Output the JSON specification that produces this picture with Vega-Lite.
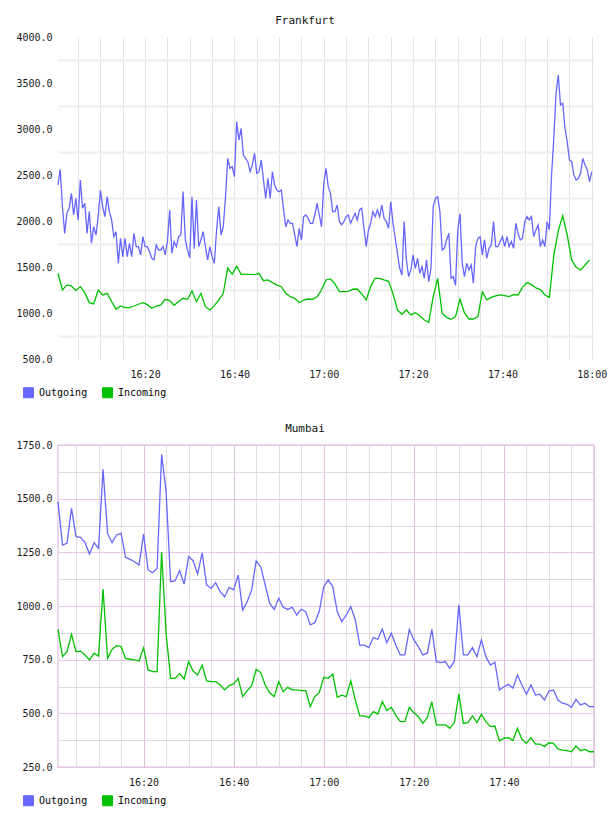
{
  "$schema": "https://vega.github.io/schema/vega-lite/v6.json",
  "background": "white",
  "padding": {"left": 15, "top": 15, "right": 0, "bottom": 0},
  "spacing": 86,
  "bounds": "flush",
  "resolve": {"legend": {"color": "independent"}},
  "config": {
    "font": "DejaVu Sans Mono",
    "view": {"stroke": null},
    "axis": {"labelFont": "DejaVu Sans Mono", "labelFontSize": 10, "labelColor": "#1a1a1a", "ticks": false, "domain": false, "labelOverlap": false},
    "title": {"font": "DejaVu Sans Mono", "fontSize": 11, "fontWeight": "normal", "color": "#111111", "anchor": "middle", "frame": "group", "dx": -21, "offset": 6}
  },
  "vconcat": [
    {
      "width": 536,
      "height": 322,
      "title": "Frankfurt",
      "data": {
        "format": {"parse": {"t": "date:'%H:%M:%S'"}},
        "values": [
          {"t": "16:00:30", "Outgoing": 2392, "Incoming": 1432}, {"t": "16:01:00", "Outgoing": 2562},
          {"t": "16:01:30", "Outgoing": 2150, "Incoming": 1250}, {"t": "16:02:00", "Outgoing": 1866},
          {"t": "16:02:30", "Outgoing": 2084, "Incoming": 1305}, {"t": "16:03:00", "Outgoing": 2138},
          {"t": "16:03:30", "Outgoing": 2301, "Incoming": 1294}, {"t": "16:04:00", "Outgoing": 2065},
          {"t": "16:04:30", "Outgoing": 2247, "Incoming": 1243}, {"t": "16:05:00", "Outgoing": 2011},
          {"t": "16:05:30", "Outgoing": 2446, "Incoming": 1287}, {"t": "16:06:00", "Outgoing": 2138},
          {"t": "16:06:30", "Outgoing": 2192, "Incoming": 1221}, {"t": "16:07:00", "Outgoing": 1866},
          {"t": "16:07:30", "Outgoing": 2102, "Incoming": 1113}, {"t": "16:08:00", "Outgoing": 1758},
          {"t": "16:08:30", "Outgoing": 1939, "Incoming": 1098}, {"t": "16:09:00", "Outgoing": 1848},
          {"t": "16:09:30", "Outgoing": 2048, "Incoming": 1250}, {"t": "16:10:00", "Outgoing": 2337},
          {"t": "16:10:30", "Outgoing": 2156, "Incoming": 1196}, {"t": "16:11:00", "Outgoing": 2047},
          {"t": "16:11:30", "Outgoing": 2265, "Incoming": 1214}, {"t": "16:12:00", "Outgoing": 2102},
          {"t": "16:12:30", "Outgoing": 2011, "Incoming": 1124}, {"t": "16:13:00", "Outgoing": 1830},
          {"t": "16:13:30", "Outgoing": 1884, "Incoming": 1040}, {"t": "16:14:00", "Outgoing": 1540},
          {"t": "16:14:30", "Outgoing": 1812, "Incoming": 1076}, {"t": "16:15:00", "Outgoing": 1613},
          {"t": "16:15:30", "Outgoing": 1812, "Incoming": 1058}, {"t": "16:16:00", "Outgoing": 1613},
          {"t": "16:16:30", "Outgoing": 1758, "Incoming": 1058}, {"t": "16:17:00", "Outgoing": 1613},
          {"t": "16:17:30", "Outgoing": 1866, "Incoming": 1076}, {"t": "16:18:00", "Outgoing": 1721},
          {"t": "16:18:30", "Outgoing": 1721, "Incoming": 1095}, {"t": "16:19:00", "Outgoing": 1631},
          {"t": "16:19:30", "Outgoing": 1830, "Incoming": 1113}, {"t": "16:20:00", "Outgoing": 1721},
          {"t": "16:20:30", "Outgoing": 1721, "Incoming": 1091}, {"t": "16:21:00", "Outgoing": 1667},
          {"t": "16:21:30", "Outgoing": 1595, "Incoming": 1051}, {"t": "16:22:00", "Outgoing": 1577},
          {"t": "16:22:30", "Outgoing": 1739, "Incoming": 1076}, {"t": "16:23:00", "Outgoing": 1685},
          {"t": "16:23:30", "Outgoing": 1685, "Incoming": 1087}, {"t": "16:24:00", "Outgoing": 1721},
          {"t": "16:24:30", "Outgoing": 1631, "Incoming": 1149}, {"t": "16:25:00", "Outgoing": 1776},
          {"t": "16:25:30", "Outgoing": 2120, "Incoming": 1134}, {"t": "16:26:00", "Outgoing": 1649},
          {"t": "16:26:30", "Outgoing": 1776, "Incoming": 1084}, {"t": "16:27:00", "Outgoing": 1721},
          {"t": "16:27:30", "Outgoing": 1830, "Incoming": 1124}, {"t": "16:28:00", "Outgoing": 1848},
          {"t": "16:28:30", "Outgoing": 2319, "Incoming": 1160}, {"t": "16:29:00", "Outgoing": 1794},
          {"t": "16:29:30", "Outgoing": 1685, "Incoming": 1149}, {"t": "16:30:00", "Outgoing": 1600},
          {"t": "16:30:30", "Outgoing": 2264, "Incoming": 1240}, {"t": "16:31:00", "Outgoing": 1700},
          {"t": "16:31:30", "Outgoing": 2228, "Incoming": 1123}, {"t": "16:32:00", "Outgoing": 1721},
          {"t": "16:32:30", "Outgoing": 1793, "Incoming": 1214}, {"t": "16:33:00", "Outgoing": 1884},
          {"t": "16:33:30", "Outgoing": 1721, "Incoming": 1069}, {"t": "16:34:00", "Outgoing": 1576},
          {"t": "16:34:30", "Outgoing": 1721, "Incoming": 1033}, {"t": "16:35:00", "Outgoing": 1612},
          {"t": "16:35:30", "Outgoing": 1540, "Incoming": 1080}, {"t": "16:36:00", "Outgoing": 1900},
          {"t": "16:36:30", "Outgoing": 2156, "Incoming": 1141}, {"t": "16:37:00", "Outgoing": 1848},
          {"t": "16:37:30", "Outgoing": 1938, "Incoming": 1214}, {"t": "16:38:00", "Outgoing": 2264},
          {"t": "16:38:30", "Outgoing": 2681, "Incoming": 1490}, {"t": "16:39:00", "Outgoing": 2572},
          {"t": "16:39:30", "Outgoing": 2590, "Incoming": 1420}, {"t": "16:40:00", "Outgoing": 2482},
          {"t": "16:40:30", "Outgoing": 3080, "Incoming": 1510}, {"t": "16:41:00", "Outgoing": 2880},
          {"t": "16:41:30", "Outgoing": 3007, "Incoming": 1420}, {"t": "16:42:00", "Outgoing": 2717},
          {"t": "16:42:30", "Outgoing": 2681, "Incoming": 1420}, {"t": "16:43:00", "Outgoing": 2645},
          {"t": "16:43:30", "Outgoing": 2536, "Incoming": 1420}, {"t": "16:44:00", "Outgoing": 2609},
          {"t": "16:44:30", "Outgoing": 2735, "Incoming": 1417}, {"t": "16:45:00", "Outgoing": 2518},
          {"t": "16:45:30", "Outgoing": 2536, "Incoming": 1431}, {"t": "16:46:00", "Outgoing": 2663},
          {"t": "16:46:30", "Outgoing": 2445, "Incoming": 1351}, {"t": "16:47:00", "Outgoing": 2246},
          {"t": "16:47:30", "Outgoing": 2464, "Incoming": 1359}, {"t": "16:48:00", "Outgoing": 2246},
          {"t": "16:48:30", "Outgoing": 2536, "Incoming": 1330}, {"t": "16:49:00", "Outgoing": 2391},
          {"t": "16:49:30", "Outgoing": 2337, "Incoming": 1304}, {"t": "16:50:00", "Outgoing": 2319},
          {"t": "16:50:30", "Outgoing": 2337, "Incoming": 1286}, {"t": "16:51:00", "Outgoing": 2119},
          {"t": "16:51:30", "Outgoing": 1938, "Incoming": 1214}, {"t": "16:52:00", "Outgoing": 2011},
          {"t": "16:52:30", "Outgoing": 1974, "Incoming": 1177}, {"t": "16:53:00", "Outgoing": 1974},
          {"t": "16:53:30", "Outgoing": 1848, "Incoming": 1159}, {"t": "16:54:00", "Outgoing": 1721},
          {"t": "16:54:30", "Outgoing": 1920, "Incoming": 1112}, {"t": "16:55:00", "Outgoing": 1793},
          {"t": "16:55:30", "Outgoing": 2047, "Incoming": 1141}, {"t": "16:56:00", "Outgoing": 2065},
          {"t": "16:56:30", "Outgoing": 2029, "Incoming": 1152}, {"t": "16:57:00", "Outgoing": 1974},
          {"t": "16:57:30", "Outgoing": 1974, "Incoming": 1149}, {"t": "16:58:00", "Outgoing": 2065},
          {"t": "16:58:30", "Outgoing": 2192, "Incoming": 1177}, {"t": "16:59:00", "Outgoing": 2065},
          {"t": "16:59:30", "Outgoing": 1938, "Incoming": 1250}, {"t": "17:00:00", "Outgoing": 2409},
          {"t": "17:00:30", "Outgoing": 2573, "Incoming": 1359}, {"t": "17:01:00", "Outgoing": 2373},
          {"t": "17:01:30", "Outgoing": 2301, "Incoming": 1370}, {"t": "17:02:00", "Outgoing": 2102},
          {"t": "17:02:30", "Outgoing": 2102, "Incoming": 1316}, {"t": "17:03:00", "Outgoing": 2174},
          {"t": "17:03:30", "Outgoing": 1993, "Incoming": 1232}, {"t": "17:04:00", "Outgoing": 1957},
          {"t": "17:04:30", "Outgoing": 1993, "Incoming": 1232}, {"t": "17:05:00", "Outgoing": 2047},
          {"t": "17:05:30", "Outgoing": 2065, "Incoming": 1236}, {"t": "17:06:00", "Outgoing": 1975},
          {"t": "17:06:30", "Outgoing": 2029, "Incoming": 1258}, {"t": "17:07:00", "Outgoing": 2084},
          {"t": "17:07:30", "Outgoing": 2011, "Incoming": 1261}, {"t": "17:08:00", "Outgoing": 2120},
          {"t": "17:08:30", "Outgoing": 2138, "Incoming": 1207}, {"t": "17:09:00", "Outgoing": 1921},
          {"t": "17:09:30", "Outgoing": 1721, "Incoming": 1142}, {"t": "17:10:00", "Outgoing": 1903},
          {"t": "17:10:30", "Outgoing": 1975, "Incoming": 1287}, {"t": "17:11:00", "Outgoing": 2102},
          {"t": "17:11:30", "Outgoing": 2047, "Incoming": 1377}, {"t": "17:12:00", "Outgoing": 2120},
          {"t": "17:12:30", "Outgoing": 2047, "Incoming": 1377}, {"t": "17:13:00", "Outgoing": 2174},
          {"t": "17:13:30", "Outgoing": 2029, "Incoming": 1359}, {"t": "17:14:00", "Outgoing": 1993},
          {"t": "17:14:30", "Outgoing": 1921, "Incoming": 1344}, {"t": "17:15:00", "Outgoing": 2210},
          {"t": "17:15:30", "Outgoing": 1975, "Incoming": 1210}, {"t": "17:16:00", "Outgoing": 1812},
          {"t": "17:16:30", "Outgoing": 1649, "Incoming": 1033}, {"t": "17:17:00", "Outgoing": 1486},
          {"t": "17:17:30", "Outgoing": 1413, "Incoming": 986}, {"t": "17:18:00", "Outgoing": 1993},
          {"t": "17:18:30", "Outgoing": 1576, "Incoming": 1033}, {"t": "17:19:00", "Outgoing": 1395},
          {"t": "17:19:30", "Outgoing": 1468, "Incoming": 979}, {"t": "17:20:00", "Outgoing": 1631},
          {"t": "17:20:30", "Outgoing": 1486, "Incoming": 1004}, {"t": "17:21:00", "Outgoing": 1594},
          {"t": "17:21:30", "Outgoing": 1431, "Incoming": 971}, {"t": "17:22:00", "Outgoing": 1504},
          {"t": "17:22:30", "Outgoing": 1377, "Incoming": 924}, {"t": "17:23:00", "Outgoing": 1576},
          {"t": "17:23:30", "Outgoing": 1341, "Incoming": 899}, {"t": "17:24:00", "Outgoing": 1486},
          {"t": "17:24:30", "Outgoing": 2156, "Incoming": 1178}, {"t": "17:25:00", "Outgoing": 2247},
          {"t": "17:25:30", "Outgoing": 2265, "Incoming": 1377}, {"t": "17:26:00", "Outgoing": 2102},
          {"t": "17:26:30", "Outgoing": 1685, "Incoming": 997}, {"t": "17:27:00", "Outgoing": 1703},
          {"t": "17:27:30", "Outgoing": 1794, "Incoming": 953}, {"t": "17:28:00", "Outgoing": 1866},
          {"t": "17:28:30", "Outgoing": 1377, "Incoming": 932}, {"t": "17:29:00", "Outgoing": 1395},
          {"t": "17:29:30", "Outgoing": 1300, "Incoming": 960}, {"t": "17:30:00", "Outgoing": 1903},
          {"t": "17:30:30", "Outgoing": 2080, "Incoming": 1150}, {"t": "17:31:00", "Outgoing": 1540},
          {"t": "17:31:30", "Outgoing": 1395, "Incoming": 1000}, {"t": "17:32:00", "Outgoing": 1540},
          {"t": "17:32:30", "Outgoing": 1468, "Incoming": 935}, {"t": "17:33:00", "Outgoing": 1522},
          {"t": "17:33:30", "Outgoing": 1323, "Incoming": 935}, {"t": "17:34:00", "Outgoing": 1721},
          {"t": "17:34:30", "Outgoing": 1812, "Incoming": 960}, {"t": "17:35:00", "Outgoing": 1830},
          {"t": "17:35:30", "Outgoing": 1631, "Incoming": 1230}, {"t": "17:36:00", "Outgoing": 1794},
          {"t": "17:36:30", "Outgoing": 1595, "Incoming": 1142}, {"t": "17:37:00", "Outgoing": 1703},
          {"t": "17:37:30", "Outgoing": 1739, "Incoming": 1170}, {"t": "17:38:00", "Outgoing": 1993},
          {"t": "17:38:30", "Outgoing": 1721, "Incoming": 1185}, {"t": "17:39:00", "Outgoing": 1721},
          {"t": "17:39:30", "Outgoing": 1776, "Incoming": 1196}, {"t": "17:40:00", "Outgoing": 1830},
          {"t": "17:40:30", "Outgoing": 1721, "Incoming": 1189}, {"t": "17:41:00", "Outgoing": 1830},
          {"t": "17:41:30", "Outgoing": 1721, "Incoming": 1178}, {"t": "17:42:00", "Outgoing": 1776},
          {"t": "17:42:30", "Outgoing": 1703, "Incoming": 1200}, {"t": "17:43:00", "Outgoing": 1975},
          {"t": "17:43:30", "Outgoing": 1866, "Incoming": 1196}, {"t": "17:44:00", "Outgoing": 1794},
          {"t": "17:44:30", "Outgoing": 1812, "Incoming": 1279}, {"t": "17:45:00", "Outgoing": 1993},
          {"t": "17:45:30", "Outgoing": 2047, "Incoming": 1330}, {"t": "17:46:00", "Outgoing": 2011},
          {"t": "17:46:30", "Outgoing": 2047, "Incoming": 1308}, {"t": "17:47:00", "Outgoing": 1830},
          {"t": "17:47:30", "Outgoing": 1903, "Incoming": 1272}, {"t": "17:48:00", "Outgoing": 1957},
          {"t": "17:48:30", "Outgoing": 1721, "Incoming": 1254}, {"t": "17:49:00", "Outgoing": 1794},
          {"t": "17:49:30", "Outgoing": 1721, "Incoming": 1196}, {"t": "17:50:00", "Outgoing": 1993},
          {"t": "17:50:30", "Outgoing": 1903, "Incoming": 1170}, {"t": "17:51:00", "Outgoing": 2500},
          {"t": "17:51:30", "Outgoing": 2899, "Incoming": 1627}, {"t": "17:52:00", "Outgoing": 3388},
          {"t": "17:52:30", "Outgoing": 3587, "Incoming": 1893}, {"t": "17:53:00", "Outgoing": 3261},
          {"t": "17:53:30", "Outgoing": 3279, "Incoming": 2060}, {"t": "17:54:00", "Outgoing": 3008},
          {"t": "17:54:30", "Outgoing": 2863, "Incoming": 1848}, {"t": "17:55:00", "Outgoing": 2663},
          {"t": "17:55:30", "Outgoing": 2645, "Incoming": 1577}, {"t": "17:56:00", "Outgoing": 2500},
          {"t": "17:56:30", "Outgoing": 2446, "Incoming": 1497}, {"t": "17:57:00", "Outgoing": 2464},
          {"t": "17:57:30", "Outgoing": 2518, "Incoming": 1468}, {"t": "17:58:00", "Outgoing": 2681},
          {"t": "17:58:30", "Outgoing": 2609, "Incoming": 1522}, {"t": "17:59:00", "Outgoing": 2555},
          {"t": "17:59:30", "Outgoing": 2428, "Incoming": 1577}, {"t": "18:00:00", "Outgoing": 2537}
        ]
      },
      "transform": [
        {"fold": ["Outgoing", "Incoming"], "as": ["series", "value"]},
        {"filter": "isValid(datum.value)"}
      ],
      "mark": {"type": "line", "strokeWidth": 1.3},
      "encoding": {
        "x": {
          "field": "t", "type": "temporal", "title": null,
          "scale": {"domain": [
            {"year": 1900, "month": 1, "date": 1, "hours": 16, "minutes": 0, "seconds": 30},
            {"year": 1900, "month": 1, "date": 1, "hours": 18, "minutes": 0, "seconds": 30}
          ]},
          "axis": {
            "format": "%H:%M",
            "labelExpr": "minutes(datum.value) % 20 === 0 ? datum.label : ''",
            "gridColor": "#e3e3e3", "labelPadding": 10, "labelFlush": false
          }
        },
        "y": {
          "field": "value", "type": "quantitative", "title": null,
          "scale": {"domain": [500, 4000], "nice": false, "zero": false},
          "axis": {
            "values": [500, 750, 1000, 1250, 1500, 1750, 2000, 2250, 2500, 2750, 3000, 3250, 3500, 3750, 4000],
            "format": ".1f",
            "labelExpr": "datum.value % 500 === 0 ? datum.label : ''",
            "gridColor": "#eeeeee", "gridWidth": 2,
            "gridOpacity": {"condition": {"test": "datum.value % 500 === 0", "value": 0}, "value": 1},
            "labelPadding": 6
          }
        },
        "color": {
          "field": "series", "type": "nominal",
          "scale": {"domain": ["Outgoing", "Incoming"], "range": ["#6666ff", "#00c000"]},
          "legend": {
            "title": null, "orient": "none", "legendX": -35, "legendY": 350, "direction": "horizontal",
            "symbolType": "square", "symbolSize": 100, "labelFont": "DejaVu Sans Mono", "labelFontSize": 10,
            "labelOffset": 5, "columnPadding": 12, "padding": 0,
            "encode": {"symbols": {"update": {
              "fill": {"signal": "datum.value === 'Outgoing' ? '#6666ff' : '#00c000'"},
              "fillOpacity": {"value": 1},
              "stroke": {"value": "#999999"},
              "strokeWidth": {"value": 1}
            }}}
          }
        }
      }
    },
    {
      "width": 536,
      "height": 322,
      "title": "Mumbai",
      "view": {"stroke": "#e8cde8", "strokeWidth": 1.5},
      "data": {
        "format": {"parse": {"t": "date:'%H:%M:%S'"}},
        "values": [
          {"t": "16:01:00", "Outgoing": 1486, "Incoming": 891}, {"t": "16:02:00", "Outgoing": 1284, "Incoming": 764},
          {"t": "16:03:00", "Outgoing": 1292, "Incoming": 787}, {"t": "16:04:00", "Outgoing": 1455, "Incoming": 868},
          {"t": "16:05:00", "Outgoing": 1323, "Incoming": 787}, {"t": "16:06:00", "Outgoing": 1320, "Incoming": 790},
          {"t": "16:07:00", "Outgoing": 1295, "Incoming": 772}, {"t": "16:08:00", "Outgoing": 1242, "Incoming": 749},
          {"t": "16:09:00", "Outgoing": 1295, "Incoming": 780}, {"t": "16:10:00", "Outgoing": 1269, "Incoming": 767},
          {"t": "16:11:00", "Outgoing": 1637, "Incoming": 1079}, {"t": "16:12:00", "Outgoing": 1338, "Incoming": 756},
          {"t": "16:13:00", "Outgoing": 1295, "Incoming": 798}, {"t": "16:14:00", "Outgoing": 1331, "Incoming": 815},
          {"t": "16:15:00", "Outgoing": 1338, "Incoming": 811}, {"t": "16:16:00", "Outgoing": 1227, "Incoming": 756},
          {"t": "16:17:00", "Outgoing": 1217, "Incoming": 752}, {"t": "16:18:00", "Outgoing": 1206, "Incoming": 749},
          {"t": "16:19:00", "Outgoing": 1191, "Incoming": 744}, {"t": "16:20:00", "Outgoing": 1335, "Incoming": 806},
          {"t": "16:21:00", "Outgoing": 1168, "Incoming": 702}, {"t": "16:22:00", "Outgoing": 1155, "Incoming": 694},
          {"t": "16:23:00", "Outgoing": 1175, "Incoming": 694}, {"t": "16:24:00", "Outgoing": 1706, "Incoming": 1250},
          {"t": "16:25:00", "Outgoing": 1533, "Incoming": 873}, {"t": "16:26:00", "Outgoing": 1113, "Incoming": 663},
          {"t": "16:27:00", "Outgoing": 1118, "Incoming": 663}, {"t": "16:28:00", "Outgoing": 1165, "Incoming": 686},
          {"t": "16:29:00", "Outgoing": 1102, "Incoming": 660}, {"t": "16:30:00", "Outgoing": 1230, "Incoming": 741},
          {"t": "16:31:00", "Outgoing": 1211, "Incoming": 697}, {"t": "16:32:00", "Outgoing": 1149, "Incoming": 679},
          {"t": "16:33:00", "Outgoing": 1248, "Incoming": 725}, {"t": "16:34:00", "Outgoing": 1098, "Incoming": 651},
          {"t": "16:35:00", "Outgoing": 1082, "Incoming": 648}, {"t": "16:36:00", "Outgoing": 1109, "Incoming": 648},
          {"t": "16:37:00", "Outgoing": 1067, "Incoming": 632}, {"t": "16:38:00", "Outgoing": 1043, "Incoming": 609},
          {"t": "16:39:00", "Outgoing": 1087, "Incoming": 629}, {"t": "16:40:00", "Outgoing": 1075, "Incoming": 637},
          {"t": "16:41:00", "Outgoing": 1144, "Incoming": 663}, {"t": "16:42:00", "Outgoing": 981, "Incoming": 578},
          {"t": "16:43:00", "Outgoing": 1020, "Incoming": 606}, {"t": "16:44:00", "Outgoing": 1075, "Incoming": 629},
          {"t": "16:45:00", "Outgoing": 1210, "Incoming": 705}, {"t": "16:46:00", "Outgoing": 1183, "Incoming": 690},
          {"t": "16:47:00", "Outgoing": 1098, "Incoming": 632}, {"t": "16:48:00", "Outgoing": 1012, "Incoming": 596},
          {"t": "16:49:00", "Outgoing": 984, "Incoming": 578}, {"t": "16:50:00", "Outgoing": 1036, "Incoming": 648},
          {"t": "16:51:00", "Outgoing": 994, "Incoming": 601}, {"t": "16:52:00", "Outgoing": 984, "Incoming": 621},
          {"t": "16:53:00", "Outgoing": 994, "Incoming": 609}, {"t": "16:54:00", "Outgoing": 958, "Incoming": 609},
          {"t": "16:55:00", "Outgoing": 985, "Incoming": 606}, {"t": "16:56:00", "Outgoing": 974, "Incoming": 606},
          {"t": "16:57:00", "Outgoing": 912, "Incoming": 531}, {"t": "16:58:00", "Outgoing": 922, "Incoming": 578},
          {"t": "16:59:00", "Outgoing": 974, "Incoming": 596}, {"t": "17:00:00", "Outgoing": 1090, "Incoming": 668},
          {"t": "17:01:00", "Outgoing": 1121, "Incoming": 663}, {"t": "17:02:00", "Outgoing": 1090, "Incoming": 683},
          {"t": "17:03:00", "Outgoing": 974, "Incoming": 575}, {"t": "17:04:00", "Outgoing": 927, "Incoming": 585},
          {"t": "17:05:00", "Outgoing": 958, "Incoming": 578}, {"t": "17:06:00", "Outgoing": 997, "Incoming": 651},
          {"t": "17:07:00", "Outgoing": 935, "Incoming": 562}, {"t": "17:08:00", "Outgoing": 818, "Incoming": 488},
          {"t": "17:09:00", "Outgoing": 818, "Incoming": 488}, {"t": "17:10:00", "Outgoing": 806, "Incoming": 480},
          {"t": "17:11:00", "Outgoing": 853, "Incoming": 508}, {"t": "17:12:00", "Outgoing": 845, "Incoming": 497},
          {"t": "17:13:00", "Outgoing": 893, "Incoming": 554}, {"t": "17:14:00", "Outgoing": 829, "Incoming": 513},
          {"t": "17:15:00", "Outgoing": 873, "Incoming": 528}, {"t": "17:16:00", "Outgoing": 818, "Incoming": 492},
          {"t": "17:17:00", "Outgoing": 772, "Incoming": 461}, {"t": "17:18:00", "Outgoing": 772, "Incoming": 461},
          {"t": "17:19:00", "Outgoing": 891, "Incoming": 528}, {"t": "17:20:00", "Outgoing": 842, "Incoming": 503},
          {"t": "17:21:00", "Outgoing": 811, "Incoming": 485}, {"t": "17:22:00", "Outgoing": 772, "Incoming": 453},
          {"t": "17:23:00", "Outgoing": 780, "Incoming": 481}, {"t": "17:24:00", "Outgoing": 891, "Incoming": 554},
          {"t": "17:25:00", "Outgoing": 741, "Incoming": 446}, {"t": "17:26:00", "Outgoing": 736, "Incoming": 446},
          {"t": "17:27:00", "Outgoing": 741, "Incoming": 446}, {"t": "17:28:00", "Outgoing": 710, "Incoming": 430},
          {"t": "17:29:00", "Outgoing": 744, "Incoming": 457}, {"t": "17:30:00", "Outgoing": 1005, "Incoming": 590},
          {"t": "17:31:00", "Outgoing": 772, "Incoming": 453}, {"t": "17:32:00", "Outgoing": 772, "Incoming": 457},
          {"t": "17:33:00", "Outgoing": 806, "Incoming": 488}, {"t": "17:34:00", "Outgoing": 764, "Incoming": 457},
          {"t": "17:35:00", "Outgoing": 842, "Incoming": 495}, {"t": "17:36:00", "Outgoing": 764, "Incoming": 461},
          {"t": "17:37:00", "Outgoing": 725, "Incoming": 438}, {"t": "17:38:00", "Outgoing": 738, "Incoming": 441},
          {"t": "17:39:00", "Outgoing": 609, "Incoming": 371}, {"t": "17:40:00", "Outgoing": 624, "Incoming": 384},
          {"t": "17:41:00", "Outgoing": 635, "Incoming": 387}, {"t": "17:42:00", "Outgoing": 617, "Incoming": 373},
          {"t": "17:43:00", "Outgoing": 679, "Incoming": 430}, {"t": "17:44:00", "Outgoing": 632, "Incoming": 379},
          {"t": "17:45:00", "Outgoing": 589, "Incoming": 360}, {"t": "17:46:00", "Outgoing": 632, "Incoming": 387},
          {"t": "17:47:00", "Outgoing": 585, "Incoming": 357}, {"t": "17:48:00", "Outgoing": 589, "Incoming": 357},
          {"t": "17:49:00", "Outgoing": 562, "Incoming": 345}, {"t": "17:50:00", "Outgoing": 604, "Incoming": 363},
          {"t": "17:51:00", "Outgoing": 609, "Incoming": 360}, {"t": "17:52:00", "Outgoing": 562, "Incoming": 334},
          {"t": "17:53:00", "Outgoing": 547, "Incoming": 329}, {"t": "17:54:00", "Outgoing": 542, "Incoming": 326},
          {"t": "17:55:00", "Outgoing": 528, "Incoming": 321}, {"t": "17:56:00", "Outgoing": 565, "Incoming": 348},
          {"t": "17:57:00", "Outgoing": 539, "Incoming": 326}, {"t": "17:58:00", "Outgoing": 547, "Incoming": 332},
          {"t": "17:59:00", "Outgoing": 531, "Incoming": 321}, {"t": "18:00:00", "Outgoing": 531, "Incoming": 321}
        ]
      },
      "transform": [
        {"fold": ["Outgoing", "Incoming"], "as": ["series", "value"]},
        {"filter": "isValid(datum.value)"}
      ],
      "mark": {"type": "line", "strokeWidth": 1.3},
      "encoding": {
        "x": {
          "field": "t", "type": "temporal", "title": null,
          "scale": {"domain": [
            {"year": 1900, "month": 1, "date": 1, "hours": 16, "minutes": 1, "seconds": 0},
            {"year": 1900, "month": 1, "date": 1, "hours": 18, "minutes": 0, "seconds": 0}
          ]},
          "axis": {
            "format": "%H:%M",
            "labelExpr": "minutes(datum.value) % 20 === 0 && hours(datum.value) < 18 ? datum.label : ''",
            "gridColor": {"condition": {"test": "minutes(datum.value) % 20 === 0", "value": "#dcc0dc"}, "value": "#e4dde4"},
            "labelPadding": 10, "labelFlush": false
          }
        },
        "y": {
          "field": "value", "type": "quantitative", "title": null,
          "scale": {"domain": [250, 1750], "nice": false, "zero": false},
          "axis": {
            "values": [250, 375, 500, 625, 750, 875, 1000, 1125, 1250, 1375, 1500, 1625, 1750],
            "format": ".1f",
            "labelExpr": "datum.value % 250 === 0 ? datum.label : ''",
            "gridColor": {"condition": {"test": "datum.value % 250 === 0", "value": "#e6c8e6"}, "value": "#dfd9df"},
            "labelPadding": 6
          }
        },
        "color": {
          "field": "series", "type": "nominal",
          "scale": {"domain": ["Outgoing", "Incoming"], "range": ["#6666ff", "#00c000"]},
          "legend": {
            "title": null, "orient": "none", "legendX": -35, "legendY": 350, "direction": "horizontal",
            "symbolType": "square", "symbolSize": 100, "labelFont": "DejaVu Sans Mono", "labelFontSize": 10,
            "labelOffset": 5, "columnPadding": 12, "padding": 0,
            "encode": {"symbols": {"update": {
              "fill": {"signal": "datum.value === 'Outgoing' ? '#6666ff' : '#00c000'"},
              "fillOpacity": {"value": 1},
              "stroke": {"value": "#999999"},
              "strokeWidth": {"value": 1}
            }}}
          }
        }
      }
    }
  ]
}
